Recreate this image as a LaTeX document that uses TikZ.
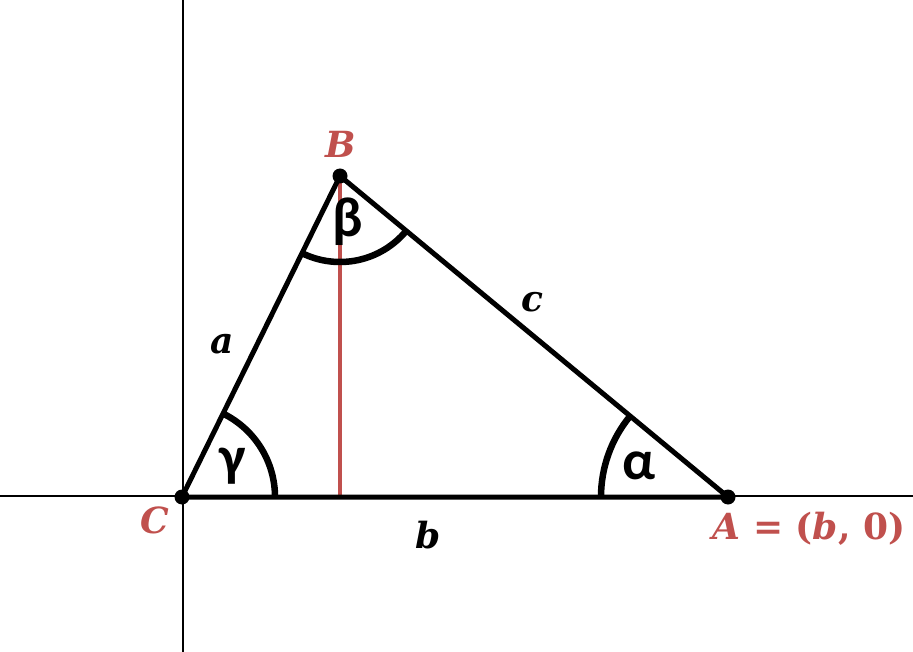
\documentclass[tikz,border=0pt]{standalone}
\usepackage{fontspec}
\setmainfont{Latin Modern Roman}
\newfontfamily\labfont{DejaVu Serif}
\newfontfamily\grkfont{Carlito}
\usetikzlibrary{angles}
\definecolor{ptred}{HTML}{C0504D}
\tikzset{
  axis/.style={line width=1.6pt, black},
  side/.style={line width=5pt, black, line cap=round},
  altitude/.style={line width=3.6pt, ptred},
  angarc/.style={draw, line width=6.5pt, black},
  vtx/.style={font=\labfont\bfseries\itshape\fontsize{36}{42}\selectfont, text=ptred, inner sep=0pt},
  sidelab/.style={font=\labfont\bfseries\itshape\fontsize{36}{42}\selectfont, text=black, inner sep=0pt},
  grk/.style={font=\grkfont\bfseries\fontsize{56}{62}\selectfont, text=black, inner sep=0pt},
  dot/.style={circle, fill=black, inner sep=0pt, minimum size=15pt}
}
\begin{document}
\begin{tikzpicture}[x=1pt, y=-1pt]
\useasboundingbox (0,0) rectangle (913,652);
% axes
\coordinate (xl) at (0,496);
\coordinate (xr) at (913,496);
\coordinate (yt) at (183,0);
\coordinate (yb) at (183,652);
\draw[axis] (xl) -- (xr);
\draw[axis] (yt) -- (yb);
% vertices
\coordinate (C) at (182,497);
\coordinate (B) at (340,176);
\coordinate (A) at (728,497);
\coordinate (H) at (340,497);
% altitude
\draw[altitude] (B) -- (H);
% triangle
\draw[side] (C) -- (B) -- (A) -- cycle;
% angle arcs
\pic[angarc, angle radius=93pt] {angle=A--C--B};
\pic[angarc, angle radius=127pt] {angle=B--A--C};
\pic[angarc, angle radius=86pt] {angle=C--B--A};
% dots
\node[dot] (dC) at (C) {};
\node[dot] (dB) at (B) {};
\node[dot] (dA) at (A) {};
% labels
\node[vtx] (lB) at (341,144) {B};
\node[vtx] (lC) at (155,520) {C};
\node[vtx] (lA) at (809,529) {A {\upshape= (}b{\upshape, 0)}};
\node[sidelab] (la) at (222,344) {a};
\node[sidelab] (lb) at (428,535) {b};
\node[sidelab] (lc) at (532,302) {c};
\node[grk] (lg) at (233,466) {γ};
\node[grk] (lal) at (639,466) {α};
\node[grk] (lbe) at (348,222) {β};
\end{tikzpicture}
\end{document}
